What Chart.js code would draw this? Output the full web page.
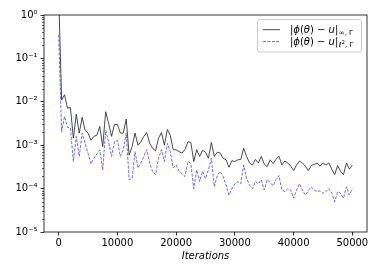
<!DOCTYPE html>
<html>
<head>
<meta charset="utf-8">
<script src="https://cdn.jsdelivr.net/npm/chart.js@4"></script>
<style>
  html, body { margin: 0; padding: 0; background: #fff; }
  #wrap { width: 382px; height: 273px; }
</style>
</head>
<body>
<div id="wrap"><canvas id="myChart" width="382" height="273"></canvas></div>
<script>
// iteration count for every sample (every 500 iterations)
const iterations = [];
for (let i = 0; i <= 50000; i += 500) iterations.push(i);

// |phi(theta) - u|_{inf,Gamma}
const errInf = [
  3.0, 1.1e-2, 1.45e-2, 7.1e-3, 7.4e-3, 1.45e-3, 5.2e-3, 1.9e-3, 4.4e-3, 2.2e-3,
  1.9e-3, 1.3e-3, 1.6e-3, 1.7e-3, 2.7e-3, 9.3e-4, 5.9e-3, 3.2e-3, 1.6e-3, 3.0e-3,
  3.0e-3, 1.9e-3, 1.9e-3, 4.0e-3, 5.9e-4, 9.3e-4, 1.9e-3, 1.0e-3, 1.2e-3, 1.6e-3,
  1.95e-3, 1.1e-3, 8.5e-4, 7.4e-4, 1.45e-3, 1.95e-3, 1.0e-3, 2.3e-3, 1.7e-3, 7.9e-4,
  7.8e-4, 7.1e-4, 6.6e-4, 7.9e-4, 1.2e-3, 1.17e-3, 4.2e-4, 7.9e-4, 5.5e-4, 7.6e-4,
  6.9e-4, 5.0e-4, 1.15e-3, 5.5e-4, 6.9e-4, 6.6e-4, 5.0e-4, 4.6e-4, 3.1e-4, 4.4e-4,
  4.2e-4, 4.6e-4, 4.7e-4, 8.5e-4, 5.5e-4, 3.9e-4, 3.5e-4, 4.7e-4, 3.9e-4, 5.5e-4,
  3.7e-4, 3.2e-4, 4.6e-4, 3.8e-4, 4.7e-4, 5.6e-4, 3.5e-4, 4.3e-4, 3.9e-4, 3.3e-4,
  2.6e-4, 3.5e-4, 4.3e-4, 3.9e-4, 3.3e-4, 2.6e-4, 3.4e-4, 3.6e-4, 3.9e-4, 3.3e-4,
  3.9e-4, 3.5e-4, 3.9e-4, 2.8e-4, 2.1e-4, 3.4e-4, 2.5e-4, 2.1e-4, 3.9e-4, 2.8e-4,
  3.5e-4
];

// |phi(theta) - u|_{l2,Gamma}
const errL2 = [
  0.35, 2.0e-3, 4.6e-3, 2.6e-3, 2.5e-3, 4.2e-4, 1.6e-3, 5.5e-4, 1.9e-3, 1.1e-3,
  6.5e-4, 3.7e-4, 5.0e-4, 6.3e-4, 7.8e-4, 2.7e-4, 2.2e-3, 1.2e-3, 5.5e-4, 1.2e-3,
  1.3e-3, 5.5e-4, 7.8e-4, 1.9e-3, 1.6e-4, 1.7e-4, 7.1e-4, 3.0e-4, 3.8e-4, 5.6e-4,
  7.9e-4, 3.8e-4, 2.5e-4, 2.1e-4, 5.0e-4, 7.9e-4, 4.2e-4, 1.1e-3, 7.1e-4, 3.0e-4,
  3.5e-4, 2.5e-4, 2.2e-4, 1.9e-4, 4.2e-4, 3.8e-4, 1.0e-4, 2.7e-4, 1.45e-4, 2.5e-4,
  1.7e-4, 2.7e-4, 5.0e-4, 1.1e-4, 2.0e-4, 2.5e-4, 1.9e-4, 1.2e-4, 7.1e-5, 1.0e-4,
  1.3e-4, 1.45e-4, 1.3e-4, 3.5e-4, 1.7e-4, 1.2e-4, 1.0e-4, 1.45e-4, 1.3e-4, 1.6e-4,
  9.3e-5, 1.6e-4, 1.4e-4, 1.15e-4, 1.6e-4, 2.0e-4, 9.3e-5, 8.5e-5, 1.0e-4, 9.3e-5,
  6.0e-5, 9.3e-5, 1.3e-4, 9.3e-5, 7.1e-5, 8.9e-5, 1.1e-4, 9.3e-5, 8.5e-5, 8.9e-5,
  7.8e-5, 8.5e-5, 1.0e-4, 7.8e-5, 5.0e-5, 8.5e-5, 7.8e-5, 6.0e-5, 1.1e-4, 7.1e-5,
  1.0e-4
];

const xTicks = [0, 10000, 20000, 30000, 40000, 50000];
const yTicks = [1e-5, 1e-4, 1e-3, 1e-2, 1e-1, 1];
const yTickLabels = ['10⁻⁵', '10⁻⁴', '10⁻³', '10⁻²', '10⁻¹', '10⁰'];
const seriesNames = ['infty', 'l2'];

const FONT = 'DejaVu Sans';

// box around the plot + minor log ticks
const framePlugin = {
  id: 'frame',
  afterDraw(chart) {
    const {ctx, chartArea: a} = chart;
    const y = chart.scales.y;
    ctx.save();
    ctx.strokeStyle = '#000';
    ctx.lineWidth = 0.8;
    ctx.strokeRect(a.left, a.top, a.right - a.left, a.bottom - a.top);
    ctx.lineWidth = 0.6;
    ctx.beginPath();
    for (let e = -5; e < 0; e++) {
      for (let m = 2; m <= 9; m++) {
        const py = Math.round(y.getPixelForValue(m * Math.pow(10, e))) + 0.5;
        ctx.moveTo(a.left, py);
        ctx.lineTo(a.left - 2, py);
      }
    }
    ctx.stroke();
    ctx.restore();
  }
};

// matplotlib style legend with sub/superscripts
const legendPlugin = {
  id: 'mathLegend',
  afterDraw(chart) {
    const ctx = chart.ctx;
    const bx = 257.5, by = 19.5, bw = 104, bh = 32.5;
    ctx.save();
    ctx.fillStyle = 'rgba(255,255,255,0.85)';
    ctx.strokeStyle = '#cccccc';
    ctx.lineWidth = 1;
    ctx.beginPath();
    ctx.roundRect(bx, by, bw, bh, 2.5);
    ctx.fill();
    ctx.stroke();

    const rows = [29.7, 41.5];
    chart.data.datasets.forEach((ds, i) => {
      const ry = rows[i];
      ctx.strokeStyle = ds.borderColor;
      ctx.lineWidth = ds.borderWidth;
      ctx.setLineDash(ds.borderDash || []);
      ctx.beginPath();
      ctx.moveTo(263, ry);
      ctx.lineTo(280, ry);
      ctx.stroke();
      ctx.setLineDash([]);

      ctx.fillStyle = '#000';
      ctx.textBaseline = 'alphabetic';
      const base = ry + 3.6;
      let x = 290;
      const parts = [
        ['|', false], ['ϕ', true], ['(', false], ['θ', true], [')', false],
        [' − ', false], ['u', true], ['|', false]
      ];
      parts.forEach(([t, it]) => {
        ctx.font = (it ? 'italic ' : '') + '10px ' + FONT;
        ctx.fillText(t, x, base);
        x += ctx.measureText(t).width;
      });
      x += 0.5;
      if (seriesNames[i] === 'infty') {
        ctx.font = '7px ' + FONT;
        ctx.fillText('∞, Γ', x, base + 2);
      } else {
        ctx.font = 'italic 7px ' + FONT;
        ctx.fillText('ℓ', x, base + 2);
        x += ctx.measureText('ℓ').width;
        ctx.font = '5px ' + FONT;
        ctx.fillText('2', x, base - 1);
        x += ctx.measureText('2').width;
        ctx.font = '7px ' + FONT;
        ctx.fillText(', Γ', x, base + 2);
      }
    });
    ctx.restore();
  }
};

const ctx = document.getElementById('myChart');
new Chart(ctx, {
  type: 'line',
  data: {
    datasets: [
      {
        label: 'inf',
        data: iterations.map((it, i) => ({x: it, y: errInf[i]})),
        borderColor: '#2a2a2a',
        borderWidth: 0.85,
        pointRadius: 0,
        tension: 0
      },
      {
        label: 'l2',
        data: iterations.map((it, i) => ({x: it, y: errL2[i]})),
        borderColor: '#4747ff',
        borderWidth: 0.8,
        borderDash: [3, 1.4],
        pointRadius: 0,
        tension: 0
      }
    ]
  },
  options: {
    responsive: false,
    animation: false,
    devicePixelRatio: 1,
    layout: { padding: { left: 0, top: 15, right: 15, bottom: 0 } },
    plugins: {
      legend: { display: false },
      tooltip: { enabled: false }
    },
    scales: {
      x: {
        type: 'linear',
        min: -2500,
        max: 52500,
        afterBuildTicks: (s) => { s.ticks = xTicks.map(v => ({value: v})); },
        afterFit: (s) => { s.height = 41; },
        grid: { drawOnChartArea: false, drawTicks: true, tickLength: 3.5, tickColor: '#000', tickWidth: 0.8 },
        border: { display: false },
        ticks: {
          color: '#000',
          padding: 2,
          maxRotation: 0,
          autoSkip: false,
          font: { family: FONT, size: 10 },
          callback: (v) => String(v)
        },
        title: {
          display: true,
          text: 'Iterations',
          color: '#000',
          font: { family: FONT, size: 10, style: 'italic' },
          padding: { top: 0, bottom: 11 }
        }
      },
      y: {
        type: 'logarithmic',
        min: 1e-5,
        max: 1,
        afterBuildTicks: (s) => { s.ticks = yTicks.map(v => ({value: v})); },
        afterFit: (s) => { s.width = 44; },
        grid: { drawOnChartArea: false, drawTicks: true, tickLength: 3.5, tickColor: '#000', tickWidth: 0.8 },
        border: { display: false },
        ticks: {
          color: '#000',
          padding: 3,
          autoSkip: false,
          font: { family: FONT, size: 10 },
          callback: (v) => yTickLabels[yTicks.findIndex(t => Math.abs(Math.log10(t) - Math.log10(v)) < 1e-6)] || ''
        }
      }
    }
  },
  plugins: [framePlugin, legendPlugin]
});
</script>
</body>
</html>
